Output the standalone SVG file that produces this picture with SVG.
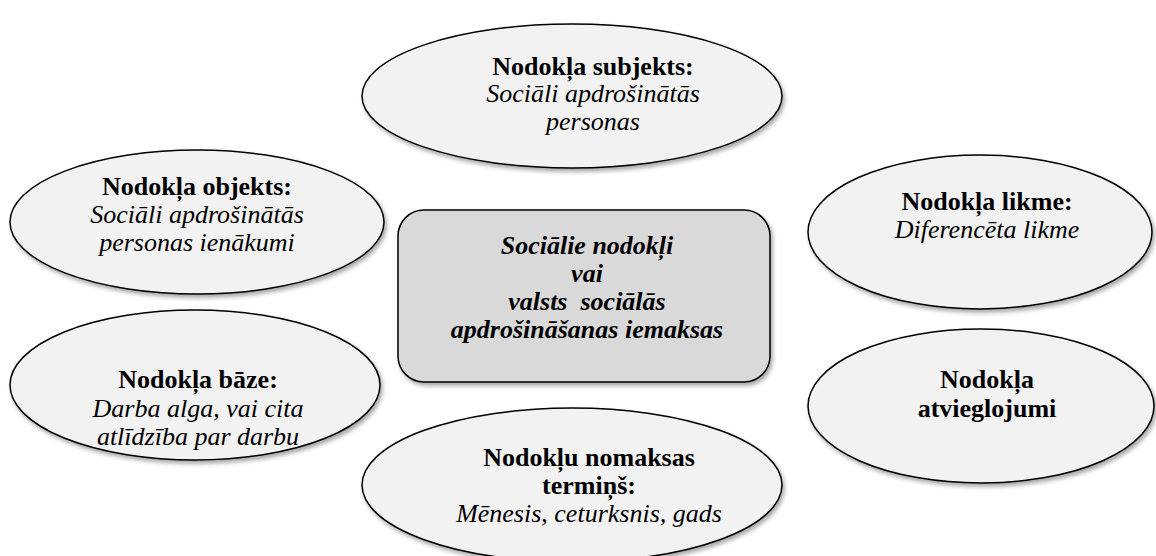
<svg xmlns="http://www.w3.org/2000/svg" width="1156" height="556" viewBox="0 0 1156 556">
<defs>
<filter id="sh" x="-10%" y="-10%" width="130%" height="130%">
<feDropShadow dx="2" dy="3" stdDeviation="2" flood-color="#000" flood-opacity="0.35"/>
</filter>
</defs>
<style>
.e{fill:#f2f2f2;stroke:#000;stroke-width:1.5;filter:url(#sh)}
.c{fill:#d9d9d9;stroke:#000;stroke-width:1.5;filter:url(#sh)}
text{font-family:'Liberation Serif','Times New Roman',serif;font-size:26px;text-anchor:middle;fill:#000}
.b{font-weight:bold}
.i{font-style:italic}
.bi{font-weight:bold;font-style:italic}
</style>
<rect width="1156" height="556" fill="#fff"/>
<g id="connectors"></g>
<g id="subjekts">
<ellipse class="e" cx="572" cy="96" rx="210" ry="72"/>
<text class="b" x="593" y="75">Nodokļa subjekts:</text>
<text class="i" x="593" y="102">Sociāli apdrošinātās</text>
<text class="i" x="593" y="130">personas</text>
</g>
<g id="objekts">
<ellipse class="e" cx="197" cy="222" rx="187" ry="72"/>
<text class="b" x="197" y="195">Nodokļa objekts:</text>
<text class="i" x="197" y="223">Sociāli apdrošinātās</text>
<text class="i" x="197" y="251">personas ienākumi</text>
</g>
<g id="likme">
<ellipse class="e" cx="980" cy="232" rx="172" ry="77"/>
<text class="b" x="987" y="210">Nodokļa likme:</text>
<text class="i" x="987" y="238">Diferencēta likme</text>
</g>
<g id="center">
<rect class="c" x="398" y="210" width="372" height="172" rx="26" ry="26"/>
<text class="bi" x="587" y="254">Sociālie nodokļi</text>
<text class="bi" x="587" y="282">vai</text>
<text class="bi" x="587" y="310" xml:space="preserve">valsts  sociālās</text>
<text class="bi" x="587" y="338">apdrošināšanas iemaksas</text>
</g>
<g id="baze">
<ellipse class="e" cx="195" cy="385" rx="185" ry="75"/>
<text class="b" x="198" y="388">Nodokļa bāze:</text>
<text class="i" x="198" y="417">Darba alga, vai cita</text>
<text class="i" x="198" y="445">atlīdzība par darbu</text>
</g>
<g id="atvieglojumi">
<ellipse class="e" cx="981" cy="406" rx="173" ry="77"/>
<text class="b" x="987" y="388">Nodokļa</text>
<text class="b" x="987" y="417">atvieglojumi</text>
</g>
<g id="nomaksas">
<ellipse class="e" cx="572" cy="485" rx="210" ry="77"/>
<text class="b" x="589" y="466">Nodokļu nomaksas</text>
<text class="b" x="589" y="494">termiņš:</text>
<text class="i" x="589" y="522">Mēnesis, ceturksnis, gads</text>
</g>
</svg>
